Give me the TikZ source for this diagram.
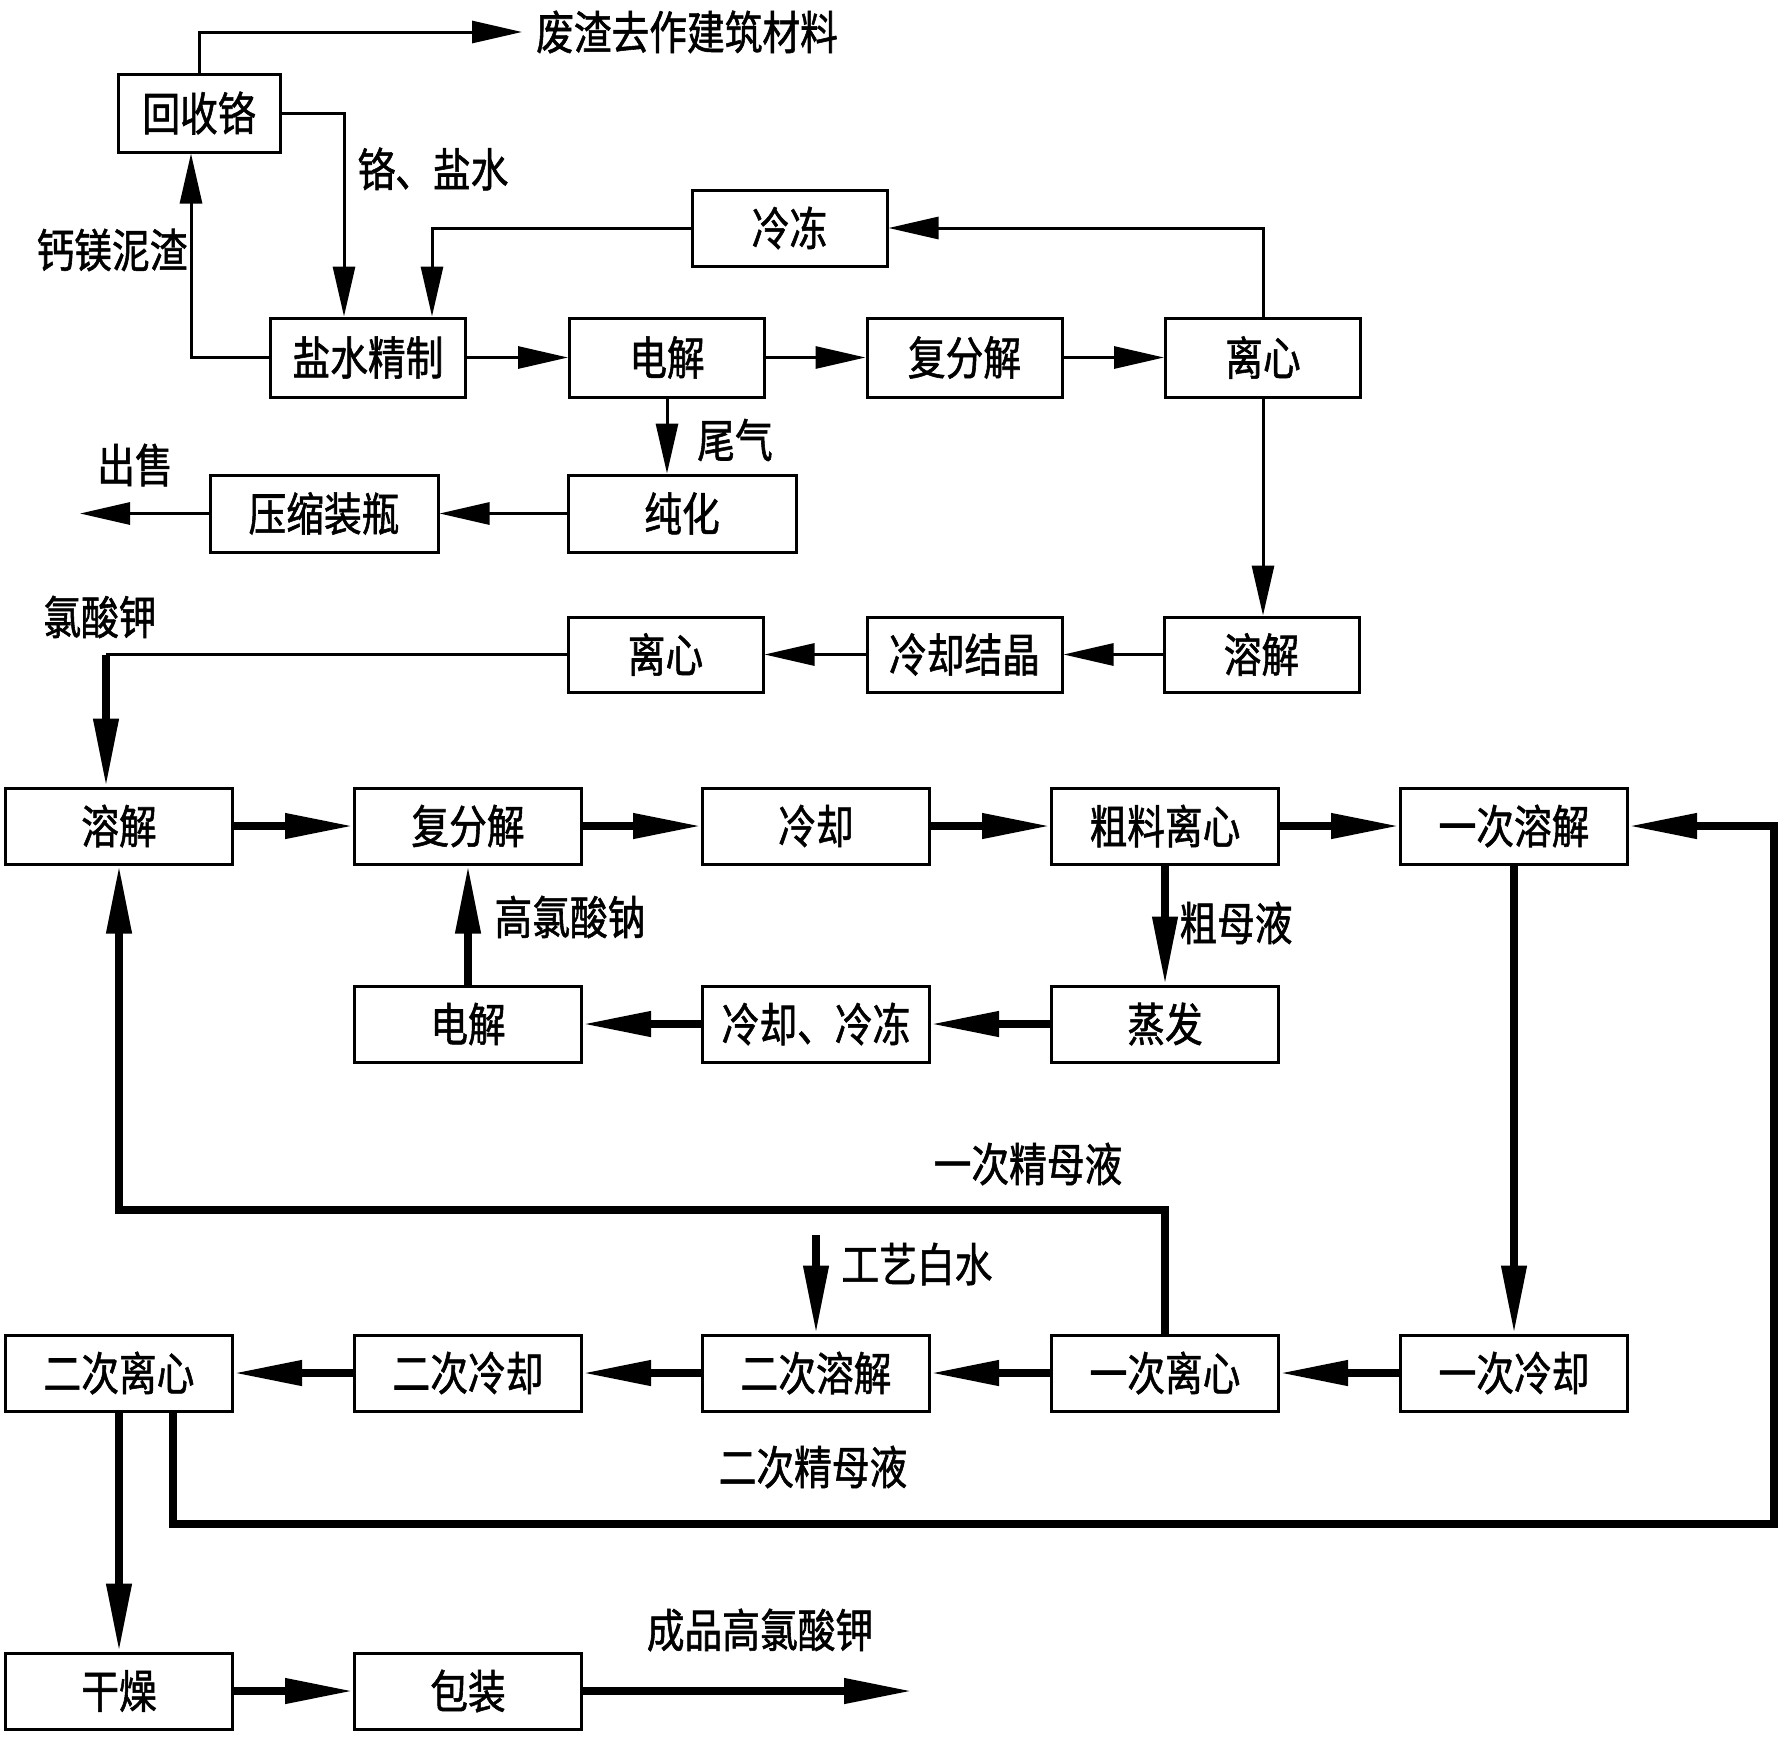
\documentclass[tikz,border=0pt]{standalone}
\usepackage{fontspec}
\newfontfamily\cjk[FakeStretch=0.82,FakeBold=1.2]{Noto Sans CJK SC}
\usetikzlibrary{arrows.meta}
\begin{document}
\begin{tikzpicture}[x=1pt,y=-1pt,
  every node/.style={font=\cjk\fontsize{46}{50}\selectfont},
  box/.style={draw, line width=3pt, minimum width=195pt, minimum height=77pt, inner sep=0pt},
  wbox/.style={box, minimum width=228pt},
  bbox/.style={box, minimum width=227pt, minimum height=76pt},
  lbl/.style={inner sep=0pt},
  thinarrow/.style={line width=3pt, -{Triangle[length=50pt,width=22pt]}},
  thinline/.style={line width=3pt},
  thkarrow/.style={line width=7.5pt, -{Triangle[length=68pt,width=24pt]}},
]
\useasboundingbox (0,0) rectangle (1786,1738);

% upper part
\node[box, minimum width=162pt, minimum height=78pt] (hsg) at (199,113) {回收铬};
\node[box, minimum height=76pt] (ld) at (789.5,228) {冷冻};
\node[box, minimum height=79pt] (ysjz) at (368,357.5) {盐水精制};
\node[box, minimum height=79pt] (dj1) at (667,357.5) {电解};
\node[box, minimum height=79pt] (ffj1) at (964.5,357.5) {复分解};
\node[box, minimum height=79pt] (lx1) at (1263,357.5) {离心};
\node[wbox] (ch) at (682,513.5) {纯化};
\node[wbox] (ysp) at (324,513.5) {压缩装瓶};
\node[box, minimum height=75pt] (lx2) at (665.5,654.5) {离心};
\node[box, minimum height=75pt] (lqjj) at (964.5,654.5) {冷却结晶};
\node[box, minimum height=75pt] (rj1) at (1261.5,654.5) {溶解};

\node[lbl] (t1) at (687,32) {废渣去作建筑材料};
\node[lbl] (t2) at (433,169) {铬、盐水};
\node[lbl] (t3) at (112,250) {钙镁泥渣};
\node[lbl] (t4) at (735,440) {尾气};
\node[lbl] (t5) at (135,465) {出售};
\node[lbl] (t6) at (100,617) {氯酸钾};

\coordinate (fzend) at (522,32);
\coordinate (csend) at (80,513.5);
\draw[thinarrow] (hsg.north) |- (fzend);
\draw[thinarrow] (hsg.east) -| ([xshift=-24pt]ysjz.north);
\draw[thinarrow] (ld.west) -| ([xshift=64pt]ysjz.north);
\draw[thinarrow] (ysjz.west) -| ([xshift=-8pt]hsg.south);
\draw[thinarrow] (ysjz.east) -- (dj1.west);
\draw[thinarrow] (dj1.east) -- (ffj1.west);
\draw[thinarrow] (ffj1.east) -- (lx1.west);
\draw[thinarrow] (lx1.north) |- (ld.east);
\draw[thinarrow] (dj1.south) -- (dj1.south |- ch.north);
\draw[thinarrow] (ch.west) -- (ysp.east);
\draw[thinarrow] (ysp.west) -- (csend);
\draw[thinarrow] (lx1.south) -- (lx1.south |- rj1.north);
\draw[thinarrow] (rj1.west) -- (lqjj.east);
\draw[thinarrow] (lqjj.west) -- (lx2.east);

% lower part
\node[bbox] (rj2) at (119,826) {溶解};
\node[bbox] (ffj2) at (468,826) {复分解};
\node[bbox] (lq) at (816,826) {冷却};
\node[bbox] (cllx) at (1165,826) {粗料离心};
\node[bbox] (ycrj) at (1514,826) {一次溶解};
\node[bbox] (dj2) at (468,1024) {电解};
\node[bbox] (lqld) at (816,1024) {冷却、冷冻};
\node[bbox] (zf) at (1165,1024) {蒸发};
\node[bbox] (eclx) at (119,1373) {二次离心};
\node[bbox] (eclq) at (468,1373) {二次冷却};
\node[bbox] (ecrj) at (816,1373) {二次溶解};
\node[bbox] (yclx) at (1165,1373) {一次离心};
\node[bbox] (yclq) at (1514,1373) {一次冷却};
\node[bbox] (gz) at (119,1691) {干燥};
\node[bbox] (bz) at (468,1691) {包装};

\node[lbl] (t7) at (570,917) {高氯酸钠};
\node[lbl] (t8) at (1236,923) {粗母液};
\node[lbl] (t9) at (1028,1164) {一次精母液};
\node[lbl] (t10) at (917,1264) {工艺白水};
\node[lbl] (t11) at (813,1467) {二次精母液};
\node[lbl] (t12) at (760,1630) {成品高氯酸钾};

\coordinate (c1) at ([xshift=-13pt]rj2.north |- lx2.west);
\draw[thinline] (lx2.west) -- (c1);
\draw[thkarrow] (c1) -- ([xshift=-13pt]rj2.north);

\draw[thkarrow] (rj2.east) -- (ffj2.west);
\draw[thkarrow] (ffj2.east) -- (lq.west);
\draw[thkarrow] (lq.east) -- (cllx.west);
\draw[thkarrow] (cllx.east) -- (ycrj.west);
\draw[thkarrow] (cllx.south) -- (zf.north);
\draw[thkarrow] (zf.west) -- (lqld.east);
\draw[thkarrow] (lqld.west) -- (dj2.east);
\draw[thkarrow] (dj2.north) -- (ffj2.south);
\draw[thkarrow] (ycrj.south) -- (yclq.north);
\draw[thkarrow] (yclq.west) -- (yclx.east);
\draw[thkarrow] (yclx.west) -- (ecrj.east);
\draw[thkarrow] (ecrj.west) -- (eclq.east);
\draw[thkarrow] (eclq.west) -- (eclx.east);
\coordinate (c2) at (119,1210);
\draw[thkarrow] (yclx.north) |- (c2) -- (rj2.south);
\coordinate (gybs) at ([yshift=99pt]ecrj.north);
\draw[thkarrow] (gybs) -- (ecrj.north);
\coordinate (r1) at (1774,1524);
\draw[thkarrow] ([xshift=54pt]eclx.south) |- (r1) |- (ycrj.east);
\draw[thkarrow] (eclx.south) -- (gz.north);
\draw[thkarrow] (gz.east) -- (bz.west);
\coordinate (cpend) at (912,1691);
\draw[thkarrow] (bz.east) -- (cpend);
\end{tikzpicture}
\end{document}
